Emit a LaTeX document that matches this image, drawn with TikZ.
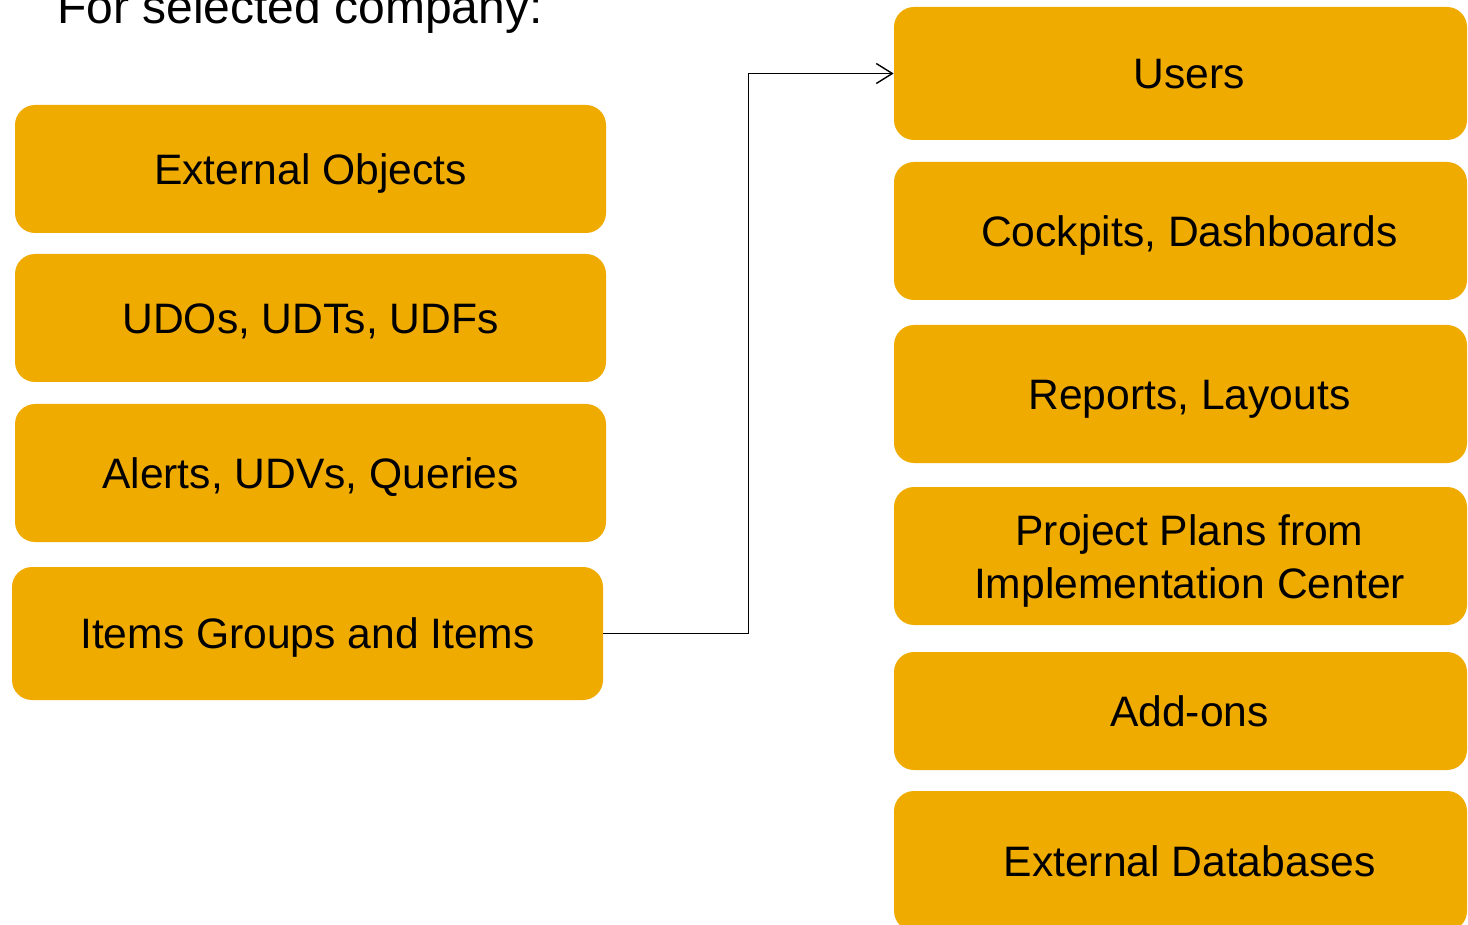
\documentclass[tikz,border=0pt]{standalone}
\usepackage{fontspec}
\setmainfont{Liberation Sans}
\usetikzlibrary{arrows.meta}
\definecolor{sapgold}{HTML}{F0AB00}
\tikzset{
  box/.style={fill=sapgold, rounded corners=10pt, inner sep=0pt, font=\fontsize{21.3}{26.5}\selectfont},
  lbox/.style={box, minimum width=295.5pt, text height=15.3pt, text depth=0pt},
  rbox/.style={box, minimum width=286.5pt},
  twoline/.style={font=\fontsize{21.3}{26.5}\selectfont, align=center, xshift=4.5pt},
  txt/.style={twoline, text height=15.3pt, text depth=0pt},
  conn/.style={line width=.7pt, -{Straight Barb[length=8pt,width=10pt]}}
}
\begin{document}
\begin{tikzpicture}[x=.5pt, y=-.5pt]
    \useasboundingbox (0,0) rectangle (1468,925);
    \node[anchor=base west, font=\fontsize{24}{29}\selectfont] (title) at (50,24) {For selected company:};
    % left column
    \node[lbox, minimum height=64pt] (ext) at (310.5,169) {External Objects};
    \node[lbox, minimum height=64pt] (udo) at (310.5,318) {UDOs, UDTs, UDFs};
    \node[lbox, minimum height=69pt] (alert) at (310.5,473) {Alerts, UDVs, Queries};
    \node[lbox, minimum height=66.5pt] (items) at (307.5,633.5) {Items Groups and Items};
    % right column
    \node[rbox, minimum height=66.5pt, label={[txt]center:Users}] (users) at (1180.5,73.5) {};
    \node[rbox, minimum height=69pt, label={[txt]center:Cockpits, Dashboards}] (cockpit) at (1180.5,231) {};
    \node[rbox, minimum height=69pt, label={[txt]center:Reports, Layouts}] (report) at (1180.5,394) {};
    \node[rbox, minimum height=69pt, label={[twoline, yshift=-2.5pt]center:Project Plans from\\Implementation Center}] (plan) at (1180.5,556) {};
    \node[rbox, minimum height=59pt, label={[txt]center:Add-ons}] (addon) at (1180.5,711) {};
    \node[rbox, minimum height=70pt, label={[txt]center:External Databases}] (extdb) at (1180.5,861) {};
    \draw[conn] (items.east) -- ++(145,0) |- (users.west);
\end{tikzpicture}
\end{document}
